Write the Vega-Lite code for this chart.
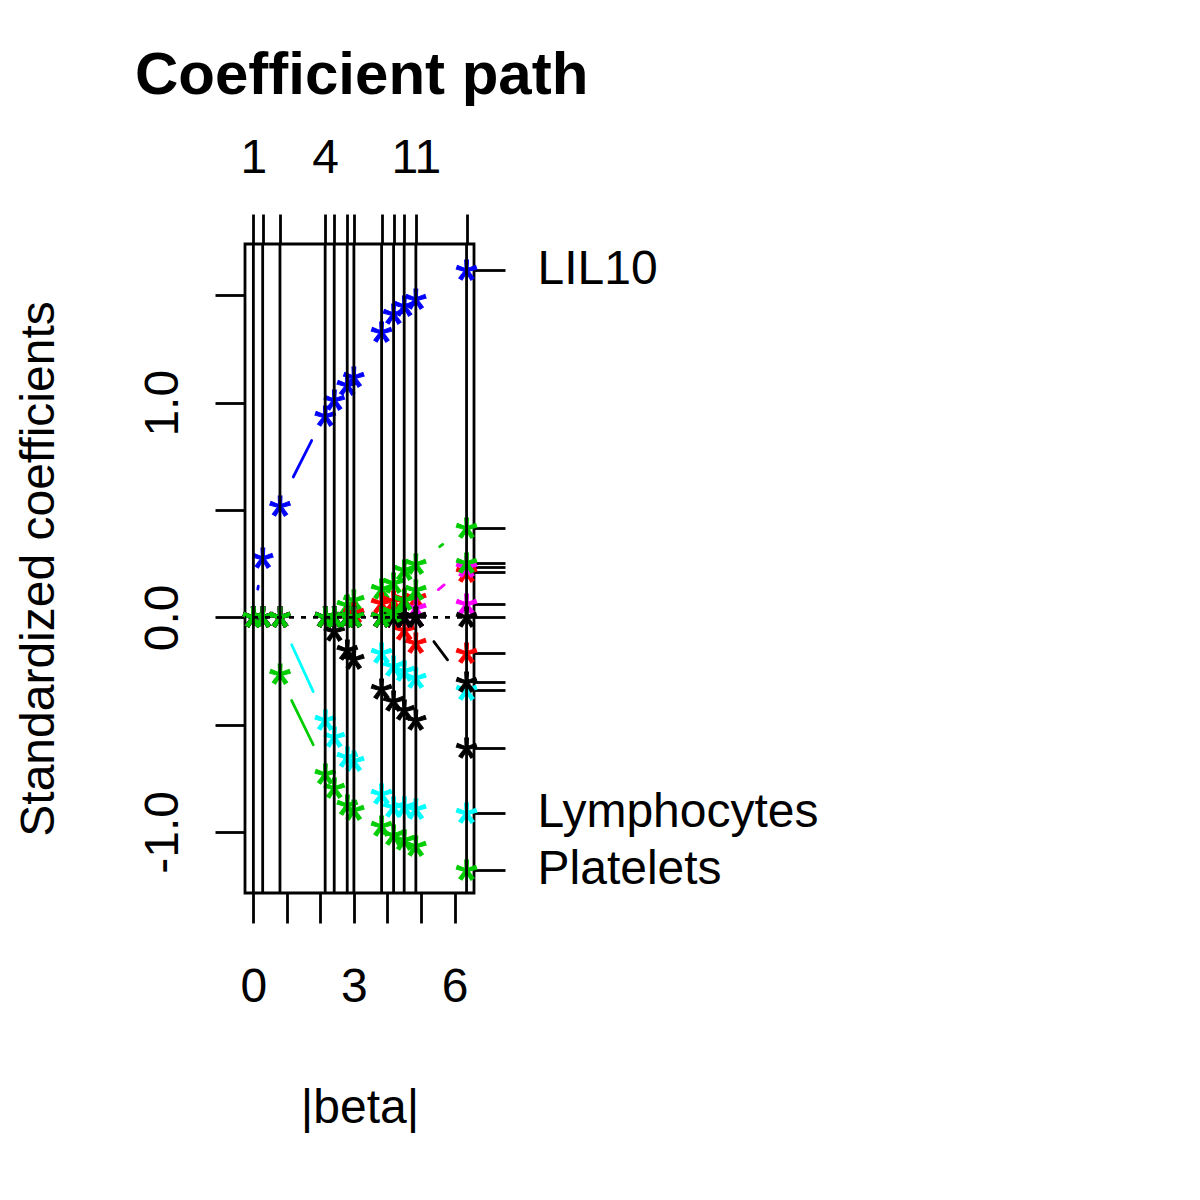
{
  "$schema": "https://vega.github.io/schema/vega-lite/v6.json",
  "width": 229,
  "height": 649,
  "autosize": {"type": "none"},
  "padding": {"left": 245, "top": 244, "right": 726, "bottom": 307},
  "background": "white",
  "title": {"text": "Coefficient path", "anchor": "start", "frame": "group", "dx": -110, "dy": 20, "font": "Liberation Sans", "fontSize": 60, "fontWeight": "bold", "color": "black", "baseline": "alphabetic", "offset": 0},
  "config": {
    "view": {"stroke": "black", "strokeWidth": 2.8},
    "font": "Liberation Sans",
    "axis": {"domain": false, "grid": false, "tickColor": "black", "tickWidth": 2.8, "tickSize": 30, "labelFont": "Liberation Sans", "labelFontSize": 48, "labelColor": "black", "labelLimit": 0, "titleFont": "Liberation Sans", "titleFontSize": 48, "titleFontWeight": "normal", "titleColor": "black", "labelOverlap": false, "labelFlush": false}
  },
  "datasets": {
    "path": [
      {"v":"LIL10","b":0,"c":0},{"v":"LIL10","b":0.277,"c":0.276},{"v":"LIL10","b":0.793,"c":0.52},{"v":"LIL10","b":2.141,"c":0.936},{"v":"LIL10","b":2.411,"c":1.011},{"v":"LIL10","b":2.799,"c":1.084},{"v":"LIL10","b":2.998,"c":1.12},{"v":"LIL10","b":3.824,"c":1.332},{"v":"LIL10","b":4.182,"c":1.413},{"v":"LIL10","b":4.498,"c":1.449},{"v":"LIL10","b":4.846,"c":1.483},{"v":"LIL10","b":6.358,"c":1.621},
      {"v":"Platelets","b":0,"c":0},{"v":"Platelets","b":0.277,"c":0},{"v":"Platelets","b":0.793,"c":-0.264},{"v":"Platelets","b":2.141,"c":-0.73},{"v":"Platelets","b":2.411,"c":-0.795},{"v":"Platelets","b":2.799,"c":-0.873},{"v":"Platelets","b":2.998,"c":-0.9},{"v":"Platelets","b":3.824,"c":-0.974},{"v":"Platelets","b":4.182,"c":-1.013},{"v":"Platelets","b":4.498,"c":-1.037},{"v":"Platelets","b":4.846,"c":-1.068},{"v":"Platelets","b":6.358,"c":-1.177},
      {"v":"Lymphocytes","b":0,"c":0},{"v":"Lymphocytes","b":0.277,"c":0},{"v":"Lymphocytes","b":0.793,"c":0},{"v":"Lymphocytes","b":2.141,"c":-0.478},{"v":"Lymphocytes","b":2.411,"c":-0.556},{"v":"Lymphocytes","b":2.799,"c":-0.649},{"v":"Lymphocytes","b":2.998,"c":-0.672},{"v":"Lymphocytes","b":3.824,"c":-0.824},{"v":"Lymphocytes","b":4.182,"c":-0.882},{"v":"Lymphocytes","b":4.498,"c":-0.885},{"v":"Lymphocytes","b":4.846,"c":-0.894},{"v":"Lymphocytes","b":6.358,"c":-0.91},
      {"v":"v4","b":0,"c":0},{"v":"v4","b":0.277,"c":0},{"v":"v4","b":0.793,"c":0},{"v":"v4","b":2.141,"c":0},{"v":"v4","b":2.411,"c":-0.066},{"v":"v4","b":2.799,"c":-0.152},{"v":"v4","b":2.998,"c":-0.195},{"v":"v4","b":3.824,"c":-0.335},{"v":"v4","b":4.182,"c":-0.392},{"v":"v4","b":4.498,"c":-0.434},{"v":"v4","b":4.846,"c":-0.478},{"v":"v4","b":6.358,"c":-0.61},
      {"v":"v5","b":0,"c":0},{"v":"v5","b":0.277,"c":0},{"v":"v5","b":0.793,"c":0},{"v":"v5","b":2.141,"c":0},{"v":"v5","b":2.411,"c":0},{"v":"v5","b":2.799,"c":0.058},{"v":"v5","b":2.998,"c":0.082},{"v":"v5","b":3.824,"c":0.13},{"v":"v5","b":4.182,"c":0.161},{"v":"v5","b":4.498,"c":0.22},{"v":"v5","b":4.846,"c":0.25},{"v":"v5","b":6.358,"c":0.417},
      {"v":"v6","b":0,"c":0},{"v":"v6","b":0.277,"c":0},{"v":"v6","b":0.793,"c":0},{"v":"v6","b":2.141,"c":0},{"v":"v6","b":2.411,"c":0},{"v":"v6","b":2.799,"c":0},{"v":"v6","b":2.998,"c":0.02},{"v":"v6","b":3.824,"c":0.066},{"v":"v6","b":4.182,"c":0.074},{"v":"v6","b":4.498,"c":0.085},{"v":"v6","b":4.846,"c":0.09},{"v":"v6","b":6.358,"c":0.209},
      {"v":"v7","b":0,"c":0},{"v":"v7","b":0.277,"c":0},{"v":"v7","b":0.793,"c":0},{"v":"v7","b":2.141,"c":0},{"v":"v7","b":2.411,"c":0},{"v":"v7","b":2.799,"c":0},{"v":"v7","b":2.998,"c":0},{"v":"v7","b":3.824,"c":-0.167},{"v":"v7","b":4.182,"c":-0.229},{"v":"v7","b":4.498,"c":-0.252},{"v":"v7","b":4.846,"c":-0.283},{"v":"v7","b":6.358,"c":-0.338},
      {"v":"v8","b":0,"c":0},{"v":"v8","b":0.277,"c":0},{"v":"v8","b":0.793,"c":0},{"v":"v8","b":2.141,"c":0},{"v":"v8","b":2.411,"c":0},{"v":"v8","b":2.799,"c":0},{"v":"v8","b":2.998,"c":0},{"v":"v8","b":3.824,"c":0},{"v":"v8","b":4.182,"c":0},{"v":"v8","b":4.498,"c":-0.06},{"v":"v8","b":4.846,"c":-0.122},{"v":"v8","b":6.358,"c":-0.167},
      {"v":"v9","b":0,"c":0},{"v":"v9","b":0.277,"c":0},{"v":"v9","b":0.793,"c":0},{"v":"v9","b":2.141,"c":0},{"v":"v9","b":2.411,"c":0},{"v":"v9","b":2.799,"c":0},{"v":"v9","b":2.998,"c":0},{"v":"v9","b":3.824,"c":0},{"v":"v9","b":4.182,"c":0},{"v":"v9","b":4.498,"c":0},{"v":"v9","b":4.846,"c":0.043},{"v":"v9","b":6.358,"c":0.236},
      {"v":"v10","b":0,"c":0},{"v":"v10","b":0.277,"c":0},{"v":"v10","b":0.793,"c":0},{"v":"v10","b":2.141,"c":0},{"v":"v10","b":2.411,"c":0},{"v":"v10","b":2.799,"c":0},{"v":"v10","b":2.998,"c":0},{"v":"v10","b":3.824,"c":0},{"v":"v10","b":4.182,"c":0},{"v":"v10","b":4.498,"c":0},{"v":"v10","b":4.846,"c":0},{"v":"v10","b":6.358,"c":0.063},
      {"v":"v11","b":0,"c":0},{"v":"v11","b":0.277,"c":0},{"v":"v11","b":0.793,"c":0},{"v":"v11","b":2.141,"c":0},{"v":"v11","b":2.411,"c":0},{"v":"v11","b":2.799,"c":0},{"v":"v11","b":2.998,"c":0},{"v":"v11","b":3.824,"c":0},{"v":"v11","b":4.182,"c":0},{"v":"v11","b":4.498,"c":0},{"v":"v11","b":4.846,"c":0},{"v":"v11","b":6.358,"c":0},
      {"v":"v12","b":0,"c":0},{"v":"v12","b":0.277,"c":0},{"v":"v12","b":0.793,"c":0},{"v":"v12","b":2.141,"c":0},{"v":"v12","b":2.411,"c":0},{"v":"v12","b":2.799,"c":0},{"v":"v12","b":2.998,"c":0},{"v":"v12","b":3.824,"c":0},{"v":"v12","b":4.182,"c":0},{"v":"v12","b":4.498,"c":0},{"v":"v12","b":4.846,"c":0},{"v":"v12","b":6.358,"c":-0.302},
      {"v":"v13","b":0,"c":0},{"v":"v13","b":0.277,"c":0},{"v":"v13","b":0.793,"c":0},{"v":"v13","b":2.141,"c":0},{"v":"v13","b":2.411,"c":0},{"v":"v13","b":2.799,"c":0},{"v":"v13","b":2.998,"c":0},{"v":"v13","b":3.824,"c":0},{"v":"v13","b":4.182,"c":0.027},{"v":"v13","b":4.498,"c":0.08},{"v":"v13","b":4.846,"c":0.128},{"v":"v13","b":6.358,"c":0.252}
    ],
    "segs": [
      {"v":"LIL10","b":0.131,"c":0.131,"b2":0.146,"c2":0.145},
      {"v":"LIL10","b":1.189,"c":0.654,"b2":1.738,"c2":0.824},
      {"v":"Lymphocytes","b":1.142,"c":-0.128,"b2":1.785,"c2":-0.346},
      {"v":"Platelets","b":1.142,"c":-0.388,"b2":1.785,"c2":-0.594},
      {"v":"v12","b":5.383,"c":-0.113,"b2":5.791,"c2":-0.198},
      {"v":"v9","b":5.517,"c":0.129,"b2":5.69,"c2":0.151},
      {"v":"v5","b":5.556,"c":0.329,"b2":5.648,"c2":0.34}
    ],
    "steps": [
      {"b":0},{"b":0.277},{"b":0.793},{"b":2.141},{"b":2.411},{"b":2.799},{"b":2.998},{"b":3.824},{"b":4.182},{"b":4.498},{"b":4.846},{"b":6.358}
    ]
  },
  "layer": [
    {
      "data": {"name": "path"},
      "mark": {"type": "text", "text": "*", "font": "Liberation Sans", "fontSize": 58, "align": "center", "baseline": "alphabetic", "dy": 30, "strokeWidth": 1, "clip": false},
      "encoding": {
        "x": {"field": "b", "type": "quantitative", "scale": {"domain": [-0.25, 6.58], "nice": false, "zero": false},
              "axis": {"orient": "bottom", "values": [0,1,2,3,4,5,6], "labelExpr": "datum.value == 0 || datum.value == 3 || datum.value == 6 ? datum.label : ''", "labelBaseline": "alphabetic", "labelPadding": 78, "title": "|beta|", "titleBaseline": "alphabetic", "titleY": 229, "titleX": 114.5, "titleAnchor": null}},
        "y": {"field": "c", "type": "quantitative", "scale": {"domain": [-1.285, 1.74], "nice": false, "zero": false},
              "axis": {"orient": "left", "values": [-1,-0.5,0,0.5,1,1.5], "labelExpr": "datum.value == -1 ? '-1.0' : datum.value == 0 ? '0.0' : datum.value == 1 ? '1.0' : ''", "labelAngle": 270, "labelAlign": "center", "labelBaseline": "alphabetic", "labelPadding": 38, "title": "Standardized coefficients", "titleAngle": 270, "titleAlign": "center", "titleBaseline": "alphabetic", "titleX": -192, "titleY": 324.5}},
        "color": {"field": "v", "type": "nominal", "legend": null,
                  "scale": {"domain": ["LIL10","Platelets","Lymphocytes","v4","v5","v6","v7","v8","v9","v10","v11","v12","v13"],
                            "range": ["#0000FF","#00CD00","#00FFFF","#000000","#00CD00","#FF0000","#00FFFF","#FF0000","#FF00FF","#FF00FF","#000000","#000000","#00CD00"]}},
        "stroke": {"field": "v", "type": "nominal", "legend": null,
                  "scale": {"domain": ["LIL10","Platelets","Lymphocytes","v4","v5","v6","v7","v8","v9","v10","v11","v12","v13"],
                            "range": ["#0000FF","#00CD00","#00FFFF","#000000","#00CD00","#FF0000","#00FFFF","#FF0000","#FF00FF","#FF00FF","#000000","#000000","#00CD00"]}}
      }
    },
    {
      "data": {"name": "segs"},
      "mark": {"type": "rule", "strokeWidth": 2.8, "strokeCap": "round"},
      "encoding": {
        "x": {"field": "b", "type": "quantitative", "axis": null},
        "x2": {"field": "b2"},
        "y": {"field": "c", "type": "quantitative", "axis": null},
        "y2": {"field": "c2"},
        "color": {"field": "v", "type": "nominal", "legend": null}
      }
    },
    {
      "data": {"values": [{}]},
      "mark": {"type": "rule", "color": "black", "strokeWidth": 2.8, "strokeDash": [5, 7]},
      "encoding": {
        "y": {"datum": 0, "type": "quantitative",
              "axis": {"orient": "right", "values": [1.621,0.417,0.252,0.236,0.209,0.063,0,-0.167,-0.302,-0.338,-0.61,-0.91,-1.177], "labelExpr": "datum.value > 1.5 ? 'LIL10' : datum.value < -1.1 ? 'Platelets' : (datum.value < -0.85 && datum.value > -0.95) ? 'Lymphocytes' : ''", "labelAlign": "left", "labelBaseline": "middle", "labelPadding": 32, "tickSize": 31, "title": null}}
      }
    },
    {
      "data": {"name": "steps"},
      "mark": {"type": "rule", "color": "black", "strokeWidth": 2.8},
      "encoding": {
        "x": {"field": "b", "type": "quantitative",
              "axis": {"orient": "top", "values": [0,0.277,0.793,2.141,2.411,2.799,2.998,3.824,4.182,4.498,4.846,6.358], "labelExpr": "datum.value == 0 ? '1' : datum.value == 2.141 ? '4' : datum.value == 4.846 ? '11' : ''", "labelBaseline": "alphabetic", "labelPadding": 42, "title": null}}
      }
    }
  ],
  "resolve": {"axis": {"x": "independent", "y": "independent"}}
}
